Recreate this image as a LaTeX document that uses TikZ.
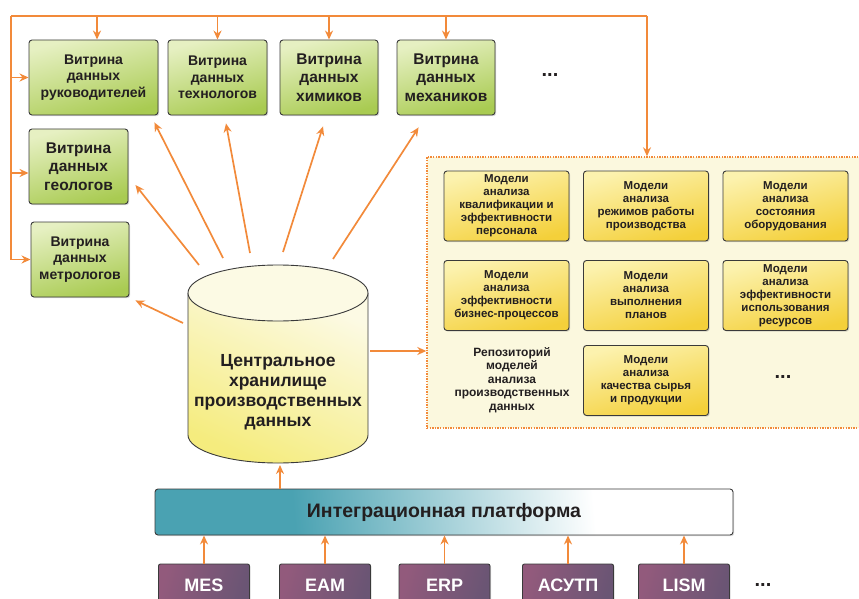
\documentclass[tikz,border=0pt]{standalone}
\usepackage{fontspec}
\setmainfont{Liberation Sans}
\usetikzlibrary{arrows.meta,shadows}
\definecolor{strelka}{HTML}{F28A3A}
\definecolor{rama}{HTML}{3A3A3A}
\definecolor{tekst}{HTML}{231F20}
\definecolor{vitlight}{HTML}{E6F0C2}
\definecolor{vitdark}{HTML}{A9CB52}
\definecolor{modlight}{HTML}{FCF2AE}
\definecolor{moddark}{HTML}{F4D03A}
\definecolor{repofill}{HTML}{FBF8DE}
\definecolor{cyllight}{HTML}{FCFAE4}
\definecolor{cyldark}{HTML}{F5EC7E}
\definecolor{platteal}{HTML}{4AA2B2}
\definecolor{srcleft}{HTML}{925A7C}
\definecolor{srcright}{HTML}{6A5574}
\pgfdeclareverticalshading{platshade}{100bp}{color(0bp)=(white); color(36bp)=(white); color(64bp)=(platteal); color(100bp)=(platteal)}
\begin{document}
\begin{tikzpicture}[x=1pt,y=-1pt,
  arr/.style={draw=strelka,line width=1.7pt,-{Stealth[length=9pt,width=8pt]}},
  wire/.style={draw=strelka,line width=1.7pt},
  shadowed/.style={drop shadow={shadow xshift=1.2pt,shadow yshift=-1.2pt,opacity=0.3}},
  vitrina/.style={shadowed,draw=rama,line width=0.9pt,rounded corners=3pt,top color=vitlight,bottom color=vitdark,shading angle=15,minimum width=98pt,minimum height=75pt,align=center,text=tekst,font=\fontsize{14}{16.5}\selectfont\bfseries},
  vitbig/.style={font=\fontsize{15.5}{18.5}\selectfont\bfseries},
  model/.style={shadowed,draw=rama,line width=0.9pt,rounded corners=3pt,top color=modlight,bottom color=moddark,shading angle=15,minimum width=125pt,minimum height=70pt,align=center,text=tekst,font=\fontsize{11.5}{13}\selectfont\bfseries},
  src/.style={shadowed,draw=rama,line width=0.9pt,rounded corners=2pt,left color=srcleft,right color=srcright,shading angle=75,minimum width=91pt,minimum height=42pt,text=white,font=\fontsize{18}{20}\selectfont\bfseries},
  dots/.style={text=tekst,font=\fontsize{20}{20}\selectfont\bfseries,inner sep=0pt}]
\useasboundingbox (0,0) rectangle (859,599);
%repozitorij
\node[draw=strelka,line width=1.4pt,dash pattern=on 1.4pt off 1.2pt,fill=repofill,minimum width=448pt,minimum height=271pt] (repo) at (651,292.5) {};
%vitriny
\node[vitrina,minimum width=129pt] (ruk) at (93.5,77.5) {Витрина\\данных\\руководителей};
\node[vitrina,minimum width=99pt] (tech) at (217.5,77.5) {Витрина\\данных\\технологов};
\node[vitrina,vitbig] (chem) at (329,77.5) {Витрина\\данных\\химиков};
\node[vitrina,vitbig] (mech) at (446,77.5) {Витрина\\данных\\механиков};
\node[vitrina,vitbig,minimum width=99pt] (geol) at (78.5,166.5) {Витрина\\данных\\геологов};
\node[vitrina] (metr) at (80,259.5) {Витрина\\данных\\метрологов};
\node[dots] (dots1) at (550,75) {...};
%modeli
\node[model] (m1) at (506.5,206) {Модели\\анализа\\квалификации и\\эффективности\\персонала};
\node[model] (m2) at (646,206) {Модели\\анализа\\режимов работы\\производства};
\node[model] (m3) at (785.5,206) {Модели\\анализа\\состояния\\оборудования};
\node[model] (m4) at (506.5,295.5) {Модели\\анализа\\эффективности\\бизнес-процессов};
\node[model] (m5) at (646,295.5) {Модели\\анализа\\выполнения\\планов};
\node[model] (m6) at (785.5,295.5) {Модели\\анализа\\эффективности\\использования\\ресурсов};
\node[model] (m7) at (646,380.5) {Модели\\анализа\\качества сырья\\и продукции};
\node[align=center,text=tekst,font=\fontsize{12}{13.5}\selectfont\bfseries] (repname) at (512,380) {Репозиторий\\моделей\\анализа\\производственных\\данных};
\node[dots] (dots2) at (783,377) {...};
%hranilishche
\shade[top color=cyllight,bottom color=cyldark,shading angle=-25] (188,293) -- (188,435) arc[start angle=180,end angle=360,x radius=90pt,y radius=28pt] -- (368,293) -- cycle;
\draw[rama,line width=0.9pt] (188,293) -- (188,435) arc[start angle=180,end angle=360,x radius=90pt,y radius=28pt] -- (368,293);
\draw[rama,line width=0.9pt,fill=cyllight] (278,293) ellipse [x radius=90pt,y radius=28pt];
\node[align=center,text=tekst,font=\fontsize{17.5}{20}\selectfont\bfseries] (store) at (278,392) {Центральное\\хранилище\\производственных\\данных};
%platforma
\node[shadowed,draw=rama,line width=0.9pt,rounded corners=3pt,shading=platshade,shading angle=95,minimum width=578pt,minimum height=46pt,text=tekst,font=\fontsize{19.5}{22}\selectfont\bfseries] (plat) at (444,512) {Интеграционная платформа};
%istochniki
\node[src] (mes) at (204,585) {MES};
\node[src] (eam) at (325,585) {EAM};
\node[src] (erp) at (444.5,585) {ERP};
\node[src] (asutp) at (568,585) {АСУТП};
\node[src] (lism) at (684,585) {LISM};
\node[dots] (dots3) at (763,585) {...};
%strelki
\coordinate (bus) at (11,16);
\coordinate (busend) at (647,16);
\draw[wire] (bus) -- (busend);
\draw[arr] (busend) -- (busend |- repo.north);
\draw[arr] (bus) -- (bus |- metr.west) -- (metr.west);
\draw[arr] (bus |- ruk.west) -- (ruk.west);
\draw[arr] (bus |- geol.west) ++(0,6.5) -- ([yshift=-6.5pt]geol.west);
\draw[arr] (bus -| ruk.north) ++(3.5,0) -- ([xshift=3.5pt]ruk.north);
\draw[arr] (bus -| tech.north) -- (tech.north);
\draw[arr] (bus -| chem.north) -- (chem.north);
\draw[arr] (bus -| mech.north) -- (mech.north);
\coordinate (s1) at (199,265);
\coordinate (s2) at (223,258);
\coordinate (s3) at (250,253);
\coordinate (s4) at (283,252);
\coordinate (s5) at (333,259);
\coordinate (s6) at (183,323);
\coordinate (s7) at (370,351);
\coordinate (s8) at (280,465);
\draw[arr] (s1) -- ([xshift=7pt,yshift=-18.5pt]geol.east);
\draw[arr] (s2) -- ([xshift=-4pt,yshift=-7pt]ruk.south east);
\draw[arr] (s3) -- ([xshift=8.5pt,yshift=-8pt]tech.south);
\draw[arr] (s4) -- ([xshift=-6pt,yshift=-11pt]chem.south);
\draw[arr] (s5) -- ([xshift=22pt,yshift=-12pt]mech.south west);
\draw[arr] (s6) -- ([xshift=6pt,yshift=-3pt]metr.south east);
\draw[arr] (s7) -- (s7 -| repo.west);
\draw[arr] (s8 |- plat.north) -- (s8);
\draw[arr] (mes.north) -- (mes.north |- plat.south);
\draw[arr] (eam.north) -- (eam.north |- plat.south);
\draw[arr] (erp.north) -- (erp.north |- plat.south);
\draw[arr] (asutp.north) -- (asutp.north |- plat.south);
\draw[arr] (lism.north) -- (lism.north |- plat.south);
\end{tikzpicture}
\end{document}
